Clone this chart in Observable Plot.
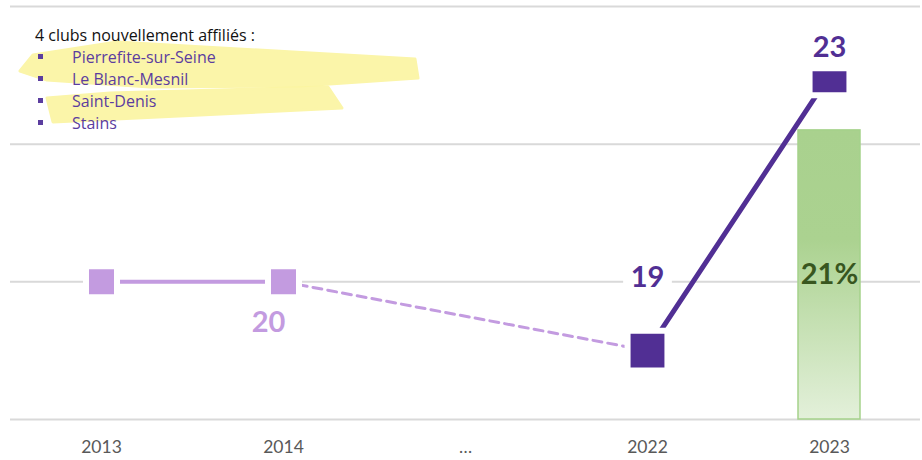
<!DOCTYPE html>
<html><head><meta charset="utf-8">
<script src="https://cdn.jsdelivr.net/npm/d3@7"></script>
<script src="https://cdn.jsdelivr.net/npm/@observablehq/plot@0.6"></script>
<style>
body{margin:0;background:#fff;}
#wrap{position:relative;width:922px;height:460px;font-family:Lato,"Open Sans",sans-serif;overflow:hidden;}
#chart{position:absolute;left:0;top:0;}
#hl{position:absolute;left:0;top:0;}
#legend{position:absolute;left:35px;top:24px;font-family:"Open Sans",sans-serif;font-size:16px;line-height:22px;}
#legend .title{color:#111;}
#legend .item{position:relative;color:#5b3d9f;padding-left:37px;}
#legend .item::before{content:"";position:absolute;left:3px;top:8px;width:5px;height:5px;background:#5b3d9f;}
</style></head><body>
<div id="wrap"><div id="chart"></div>
<svg id="hl" width="922" height="160">
<polygon points="20,71 33,55 117,42 415,59 418,78 300,86 150,87 47,80" fill="#fbf5a0" stroke="#fbf5a0" stroke-width="3" stroke-linejoin="round" opacity="0.9"/>
<polygon points="47,98 110,93 328,87 342,108 200,115 53,122" fill="#fbf5a0" stroke="#fbf5a0" stroke-width="3" stroke-linejoin="round" opacity="0.9"/>
</svg>
<div id="legend"></div></div>
<script>
// ---- data ----
const categories = ["2013", "2014", "…", "2022", "2023"];
const lineYears = ["2013", "2014", "2022", "2023"];
const clubCounts = [20, 20, 19, 23];
const shareYears = ["2023"];
const shareValues = [21];
const gridTicks = [0, 10, 20, 30];
const legendTitle = "4 clubs nouvellement affiliés :";
const newClubs = ["Pierrefite-sur-Seine", "Le Blanc-Mesnil", "Saint-Denis", "Stains"];

// ---- derived tables ----
const points = lineYears.map((year, i) => ({year, v: clubCounts[i]}));
const shares = shareYears.map((year, i) => ({year, v: shareValues[i]}));
// secondary axis: club counts (18..24) mapped onto the share axis (0..30)
const toShare = d3.scaleLinear([18, 24], [0, 30]);

const light = "#c39be0", dark = "#512f94";

const gradient = () => {
  const ns = "http://www.w3.org/2000/svg";
  const defs = document.createElementNS(ns, "defs");
  const lg = document.createElementNS(ns, "linearGradient");
  lg.setAttribute("id", "barGrad");
  lg.setAttribute("x1", "0"); lg.setAttribute("y1", "0");
  lg.setAttribute("x2", "0"); lg.setAttribute("y2", "1");
  [["0", "#a9d18e"], ["0.38", "#abd290"], ["1", "#e3f0da"]].forEach(([o, c]) => {
    const s = document.createElementNS(ns, "stop");
    s.setAttribute("offset", o); s.setAttribute("stop-color", c);
    lg.appendChild(s);
  });
  defs.appendChild(lg);
  return defs;
};

const ptY = d => toShare(d.v);

const chart = Plot.plot({
  width: 922,
  height: 460,
  marginLeft: 10,
  marginRight: 2,
  marginTop: 6,
  marginBottom: 41,
  style: {fontFamily: "Lato, 'Open Sans', sans-serif", color: "#595959", background: "transparent"},
  x: {type: "band", domain: categories, padding: 0, axis: null, label: null},
  y: {domain: [0, 30], axis: null},
  marks: [
    gradient,
    Plot.ruleY(gridTicks, {stroke: "#d9d9d9", strokeWidth: 2}),
    Plot.axisX({tickSize: 0, tickPadding: 21, fontSize: 17.5, fill: "#595959", label: null}),
    Plot.barY(shares, {x: "year", y: "v", fill: "url(#barGrad)", stroke: "#a5d28b", strokeWidth: 1.5, insetLeft: 60, insetRight: 60}),
    Plot.text(shares, {x: "year", y: d => d.v / 2, text: d => d.v + "%", fill: "#38561f", fontSize: 29, fontWeight: "bold"}),
    // line segments
    Plot.line(points.slice(0, 2), {x: "year", y: ptY, stroke: light, strokeWidth: 4}),
    Plot.line(points.slice(1, 3), {x: "year", y: ptY, stroke: light, strokeWidth: 3, strokeDasharray: "9,6"}),
    Plot.line(points.slice(2, 4), {x: "year", y: ptY, stroke: dark, strokeWidth: 5}),
    // markers
    Plot.dot(points.slice(0, 2), {x: "year", y: ptY, symbol: "square", r: 17.5, fill: light, stroke: "white", strokeWidth: 6}),
    Plot.dot(points.slice(2, 4), {x: "year", y: ptY, symbol: "square", r: 22.5, fill: dark, stroke: "white", strokeWidth: 6}),
    // data labels (with white label boxes)
    Plot.text(points.slice(1, 2), {x: "year", y: ptY, text: d => String(d.v), dx: -15, dy: 41, fill: light, fontSize: 29, fontWeight: "bold"}),
    Plot.dot(points.slice(2, 3), {x: "year", y: ptY, dy: -73, symbol: "square", r: 27.5, fill: "white"}),
    Plot.text(points.slice(2, 3), {x: "year", y: ptY, text: d => String(d.v), dy: -73, fill: dark, fontSize: 29, fontWeight: "bold"}),
    Plot.dot(points.slice(3, 4), {x: "year", y: ptY, dy: -28, symbol: "square", r: 27, fill: "white"}),
    Plot.text(points.slice(3, 4), {x: "year", y: ptY, text: d => String(d.v), dy: -28, fill: dark, fontSize: 29, fontWeight: "bold"})
  ]
});
document.getElementById("chart").appendChild(chart);

const legend = document.getElementById("legend");
const t = document.createElement("div");
t.className = "title"; t.textContent = legendTitle;
legend.appendChild(t);
newClubs.forEach(c => {
  const d = document.createElement("div");
  d.className = "item"; d.textContent = c;
  legend.appendChild(d);
});
</script>
</body></html>
